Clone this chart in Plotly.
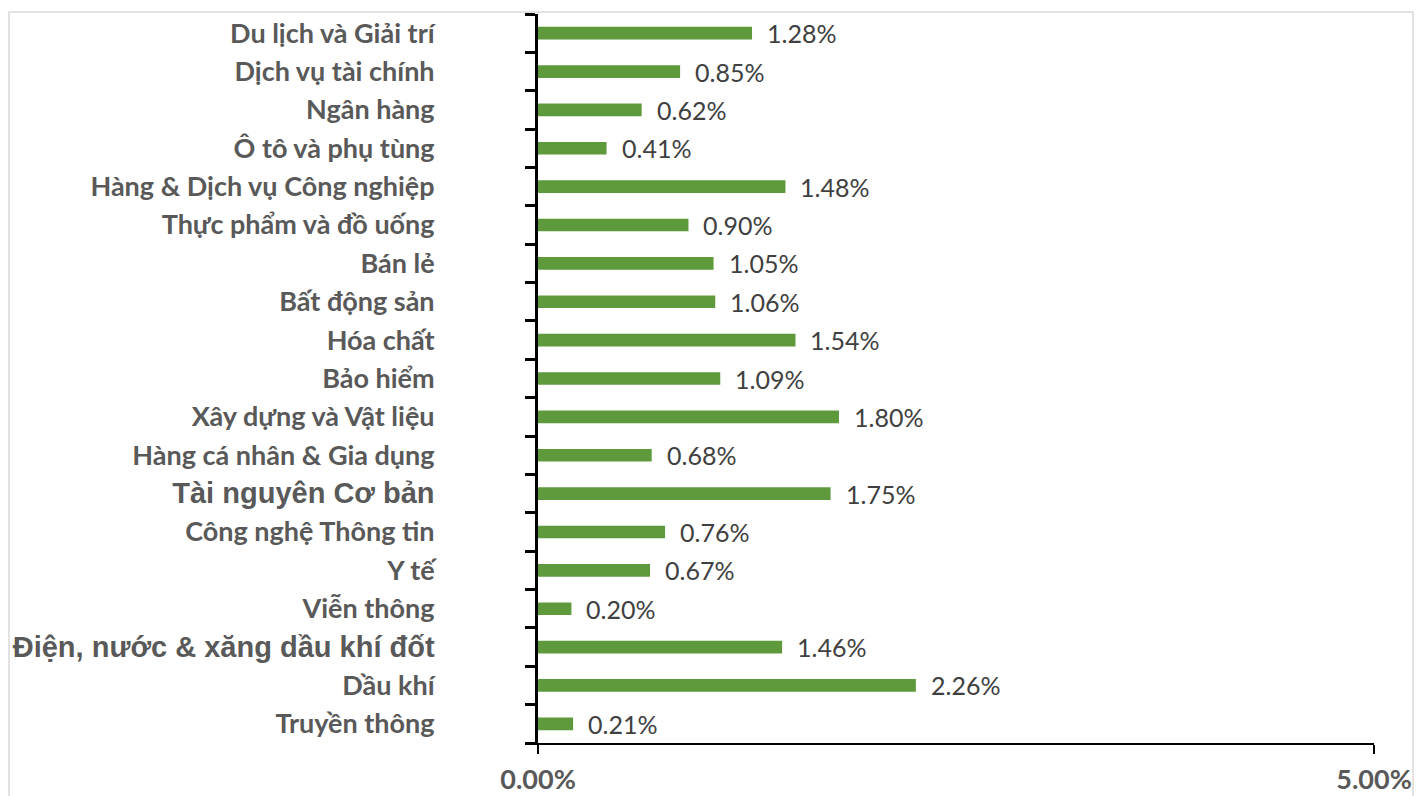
import plotly.graph_objects as go

categories = [
    "Du lịch và Giải trí",
    "Dịch vụ tài chính",
    "Ngân hàng",
    "Ô tô và phụ tùng",
    "Hàng & Dịch vụ Công nghiệp",
    "Thực phẩm và đồ uống",
    "Bán lẻ",
    "Bất động sản",
    "Hóa chất",
    "Bảo hiểm",
    "Xây dựng và Vật liệu",
    "Hàng cá nhân & Gia dụng",
    "Tài nguyên Cơ bản",
    "Công nghệ Thông tin",
    "Y tế",
    "Viễn thông",
    "Điện, nước & xăng dầu khí đốt",
    "Dầu khí",
    "Truyền thông",
]
values = [0.0128, 0.0085, 0.0062, 0.0041, 0.0148, 0.0090, 0.0105, 0.0106, 0.0154,
          0.0109, 0.0180, 0.0068, 0.0175, 0.0076, 0.0067, 0.0020, 0.0146, 0.0226, 0.0021]
x_ticks = [0.0, 0.05]
x_tick_labels = ["0.00%", "5.00%"]
arial_labels = ["Tài nguyên Cơ bản", "Điện, nước & xăng dầu khí đốt"]

tick_text = [
    f'<span style="font-family:Liberation Sans, Arial;font-size:29px">{c}</span>' if c in arial_labels else c
    for c in categories
]

fig = go.Figure()
fig.add_trace(go.Bar(
    x=values, y=categories, orientation="h",
    marker=dict(color="#5E9A3C", line=dict(width=0)),
    width=0.33,
    hoverinfo="skip",
))

for c, v in zip(categories, values):
    fig.add_annotation(
        x=v, y=c, text=f"{v*100:.2f}%", showarrow=False,
        xanchor="left", yanchor="middle", xshift=13,
        font=dict(family="Lato", size=25, color="#404040"),
    )

# light gray chart border
fig.add_shape(type="rect", xref="paper", yref="paper",
              x0=(9 - 538) / 836, x1=(1413 - 538) / 836,
              y0=-0.2, y1=1 + (14 - 12) / 729,
              line=dict(color="#D9D9D9", width=1.5), layer="below")

fig.update_layout(
    width=1419, height=796,
    margin=dict(l=538, r=45, t=14, b=53, autoexpand=False),
    plot_bgcolor="white", paper_bgcolor="white",
    showlegend=False,
)
fig.update_xaxes(
    range=[0, 0.05], tickvals=x_ticks, ticktext=x_tick_labels,
    showgrid=False, zeroline=False, automargin=False,
    showline=True, linecolor="black", linewidth=1.5,
    ticks="outside", ticklen=9, tickcolor="black", tickwidth=1.5,
    tickfont=dict(family="Lato", size=27, color="#595959", weight="bold"),
    ticklabelstandoff=3,
)
fig.update_yaxes(
    categoryorder="array", categoryarray=categories,
    tickvals=categories, ticktext=tick_text,
    range=[18.5, -0.5],
    showgrid=False, zeroline=False, automargin=False,
    showline=True, linecolor="black", linewidth=3,
    ticks="outside", ticklen=10, tickcolor="black", tickwidth=2.5,
    tickson="boundaries",
    tickfont=dict(family="Lato", size=27, color="#595959", weight="bold"),
    ticklabelstandoff=95,
)

fig.write_html("out.html", config={"displayModeBar": False},
               post_script="document.body.style.margin='0';document.body.style.overflow='hidden';")
